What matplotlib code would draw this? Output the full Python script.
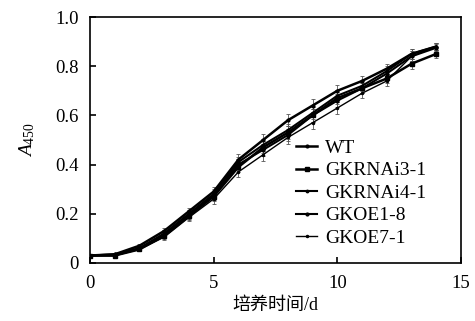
import matplotlib
matplotlib.use("Agg")
import matplotlib.pyplot as plt
import numpy as np

plt.rcParams['font.family'] = ['Liberation Serif', 'Noto Sans CJK SC']
plt.rcParams['mathtext.fontset'] = 'custom'
plt.rcParams['mathtext.rm'] = 'Liberation Serif'
plt.rcParams['mathtext.it'] = 'Liberation Serif:italic'

days = list(range(15))
series_names = ["WT", "GKRNAi3-1", "GKRNAi4-1", "GKOE1-8", "GKOE7-1"]
wt      = [0.03, 0.035, 0.07, 0.13, 0.21, 0.29, 0.42, 0.50, 0.58, 0.64, 0.70, 0.74, 0.79, 0.85, 0.88]
rnai3_1 = [0.03, 0.030, 0.055, 0.11, 0.19, 0.27, 0.39, 0.47, 0.53, 0.60, 0.67, 0.71, 0.75, 0.81, 0.85]
rnai4_1 = [0.03, 0.035, 0.060, 0.12, 0.20, 0.28, 0.41, 0.48, 0.54, 0.61, 0.68, 0.72, 0.78, 0.85, 0.88]
oe1_8   = [0.03, 0.030, 0.060, 0.115, 0.195, 0.275, 0.40, 0.46, 0.52, 0.60, 0.66, 0.71, 0.77, 0.84, 0.875]
oe7_1   = [0.03, 0.030, 0.055, 0.105, 0.185, 0.26, 0.37, 0.44, 0.51, 0.57, 0.63, 0.69, 0.74, 0.84, 0.88]
errors  = [0.003, 0.005, 0.008, 0.012, 0.015, 0.02, 0.022, 0.025, 0.025, 0.025, 0.025, 0.02, 0.02, 0.02, 0.015]

all_series = [wt, rnai3_1, rnai4_1, oe1_8, oe7_1]
markers = ['.', 's', '.', '.', '.']
msizes = [4, 3, 3.5, 4, 3]
lws = [1.8, 1.8, 1.5, 1.5, 1.0]

fig = plt.figure(figsize=(4.75, 3.21), dpi=100)
ax = fig.add_axes([0.1895, 0.181, 0.781, 0.766])

for name, ys, m, ms, lw in zip(series_names, all_series, markers, msizes, lws):
    ax.errorbar(days, ys, yerr=errors, color='black', lw=lw, marker=m, ms=ms,
                ecolor='#555555', elinewidth=0.6, capsize=1.5, capthick=0.6,
                label=name)

ax.set_xlim(0, 15)
ax.set_ylim(0, 1.0)
ax.set_xticks([0, 5, 10, 15])
ax.set_yticks([0, 0.2, 0.4, 0.6, 0.8, 1.0])
ax.set_yticklabels(['0', '0.2', '0.4', '0.6', '0.8', '1.0'])
ax.tick_params(direction='in', length=4, width=1.2, labelsize=13.5, top=False, right=False)
ax.tick_params(axis='x', pad=9)
ax.tick_params(axis='y', pad=8)
for s in ax.spines.values():
    s.set_linewidth(1.2)

ax.set_xlabel('培养时间/d', fontsize=13, labelpad=3)
ax.set_ylabel(r'$\mathit{A}_{\mathrm{450}}$', fontsize=14, labelpad=13)

handles, labels = ax.get_legend_handles_labels()
handles = [h[0] for h in handles]
leg = ax.legend(handles, labels, loc='lower left', bbox_to_anchor=(0.555, 0.065),
                frameon=False, fontsize=14, handlelength=1.1, handletextpad=0.4,
                labelspacing=0.25, borderaxespad=0, borderpad=0)

fig.savefig('out.png', dpi=100)
